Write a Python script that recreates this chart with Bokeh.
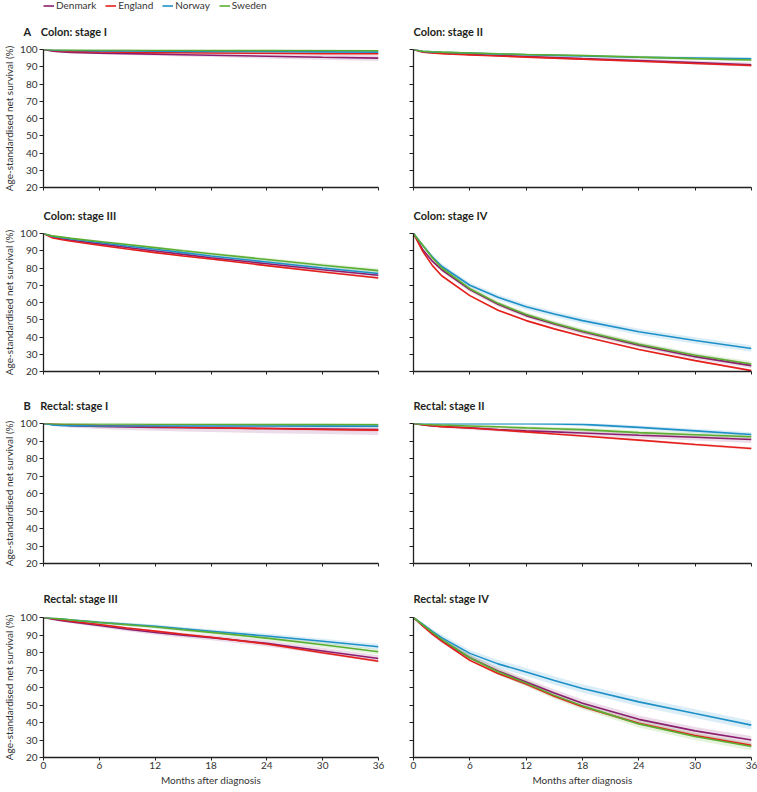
from bokeh.plotting import figure
from bokeh.layouts import column, row
from bokeh.models import Range1d, FixedTicker, Legend, LegendItem, Title
from bokeh.embed import file_html
from bokeh.resources import INLINE

# ---------------- data ----------------
MONTHS = [0, 1, 2, 3, 6, 9, 12, 15, 18, 24, 30, 36]
COUNTRIES = ["Denmark", "England", "Norway", "Sweden"]
COLORS = ["#8B1E6E", "#E4201C", "#1E90C8", "#5BAE31"]
X_TICKS = [0, 6, 12, 18, 24, 30, 36]
Y_TICKS = [20, 30, 40, 50, 60, 70, 80, 90, 100]
PANEL_TITLES = ["Colon: stage I", "Colon: stage II", "Colon: stage III", "Colon: stage IV",
                "Rectal: stage I", "Rectal: stage II", "Rectal: stage III", "Rectal: stage IV"]
SECTION_LETTERS = ["A", None, None, None, "B", None, None, None]

colon_stage_I = {
    "Denmark": [100, 99.0, 98.6, 98.3, 97.9, 97.6, 97.3, 97.0, 96.7, 96.1, 95.5, 95.0],
    "England": [100, 99.4, 99.1, 98.9, 98.6, 98.4, 98.2, 98.1, 98.0, 97.8, 97.6, 97.5],
    "Norway":  [100, 99.7, 99.5, 99.4, 99.2, 99.1, 99.0, 98.9, 98.9, 98.8, 98.6, 98.5],
    "Sweden":  [100, 99.9, 99.8, 99.8, 99.7, 99.7, 99.6, 99.6, 99.5, 99.5, 99.4, 99.3],
}
colon_stage_II = {
    "Denmark": [100, 98.6, 98.2, 97.9, 97.2, 96.5, 95.9, 95.3, 94.7, 93.6, 92.4, 91.2],
    "England": [100, 98.4, 98.0, 97.6, 96.9, 96.2, 95.6, 95.0, 94.4, 93.2, 91.9, 90.7],
    "Norway":  [100, 98.9, 98.6, 98.4, 97.9, 97.4, 97.0, 96.6, 96.2, 95.5, 95.0, 94.6],
    "Sweden":  [100, 99.0, 98.7, 98.5, 98.0, 97.5, 97.1, 96.8, 96.5, 95.6, 94.7, 93.9],
}
colon_stage_III = {
    "Denmark": [100, 97.8, 96.9, 96.1, 94.0, 91.9, 89.9, 87.9, 85.9, 82.5, 79.0, 75.8],
    "England": [100, 97.4, 96.4, 95.5, 93.2, 91.0, 88.9, 87.0, 85.2, 81.4, 77.7, 74.2],
    "Norway":  [100, 98.3, 97.5, 96.8, 94.8, 92.8, 90.9, 88.9, 87.0, 83.5, 80.0, 76.8],
    "Sweden":  [100, 98.6, 97.9, 97.2, 95.4, 93.6, 91.8, 90.0, 88.3, 84.9, 81.6, 78.5],
}
colon_stage_IV = {
    "Denmark": [100, 90.5, 84.0, 79.0, 67.5, 59.0, 52.4, 47.5, 43.0, 35.3, 28.6, 23.4],
    "England": [100, 89.5, 81.5, 75.5, 64.0, 55.5, 49.5, 44.7, 40.4, 32.8, 26.3, 20.5],
    "Norway":  [100, 93.0, 86.5, 81.0, 70.0, 63.0, 57.5, 53.3, 49.5, 43.0, 38.0, 33.3],
    "Sweden":  [100, 93.0, 86.0, 80.0, 68.0, 59.5, 53.0, 48.0, 43.5, 35.8, 29.4, 24.3],
}
rectal_stage_I = {
    "Denmark": [100, 99.5, 99.1, 98.8, 98.3, 98.0, 97.8, 97.6, 97.4, 97.1, 96.8, 96.5],
    "England": [100, 99.7, 99.4, 99.2, 98.8, 98.5, 98.2, 97.9, 97.6, 97.1, 96.6, 96.2],
    "Norway":  [100, 99.2, 98.9, 98.8, 98.6, 98.6, 98.6, 98.6, 98.6, 98.6, 98.5, 98.5],
    "Sweden":  [100, 99.9, 99.8, 99.8, 99.7, 99.7, 99.6, 99.6, 99.6, 99.5, 99.5, 99.4],
}
rectal_stage_II = {
    "Denmark": [100, 99.2, 98.6, 98.3, 97.5, 96.6, 95.8, 95.2, 94.6, 93.3, 92.1, 90.9],
    "England": [100, 99.3, 98.7, 98.2, 97.4, 96.3, 95.2, 94.0, 92.9, 90.5, 88.0, 85.7],
    "Norway":  [100, 99.9, 99.9, 99.9, 99.9, 99.9, 99.9, 99.8, 99.5, 97.8, 95.8, 93.7],
    "Sweden":  [100, 99.6, 99.3, 99.1, 98.6, 98.1, 97.5, 97.0, 96.5, 94.8, 93.6, 92.4],
}
rectal_stage_III = {
    "Denmark": [100, 99.0, 98.2, 97.5, 95.4, 93.3, 91.4, 89.9, 88.5, 85.2, 80.9, 76.6],
    "England": [100, 99.3, 98.6, 97.9, 96.0, 94.0, 92.2, 90.4, 88.7, 84.9, 79.9, 75.0],
    "Norway":  [100, 99.6, 99.1, 98.6, 97.2, 96.1, 95.0, 93.5, 92.1, 89.4, 86.4, 83.3],
    "Sweden":  [100, 99.6, 99.1, 98.6, 97.1, 95.9, 94.6, 93.0, 91.5, 88.2, 84.4, 80.4],
}
rectal_stage_IV = {
    "Denmark": [100, 95.5, 91.0, 87.0, 77.0, 69.5, 63.2, 56.8, 51.0, 41.8, 35.2, 30.0],
    "England": [100, 95.0, 90.5, 86.5, 75.5, 68.0, 62.0, 55.0, 49.0, 39.5, 32.5, 27.0],
    "Norway":  [100, 96.0, 92.0, 88.5, 79.5, 73.5, 68.9, 64.0, 59.4, 51.8, 45.1, 38.5],
    "Sweden":  [100, 95.8, 91.5, 87.5, 77.0, 69.0, 62.5, 55.5, 49.5, 39.2, 32.0, 26.3],
}

# 95% CI half-widths (percentage points)
colon_stage_I_ci = {
    "Denmark": [0, .3, .4, .5, .7, .8, .9, 1.0, 1.1, 1.3, 1.5, 1.7],
    "England": [0, .1, .1, .1, .2, .2, .3, .3, .3, .4, .4, .5],
    "Norway":  [0, .2, .3, .3, .4, .5, .5, .6, .6, .7, .8, .9],
    "Sweden":  [0, .1, .2, .2, .3, .3, .3, .3, .4, .4, .5, .5],
}
colon_stage_II_ci = {
    "Denmark": [0, .3, .4, .4, .5, .6, .7, .8, .8, 1.0, 1.1, 1.2],
    "England": [0, .1, .1, .2, .2, .3, .3, .3, .4, .4, .5, .5],
    "Norway":  [0, .3, .4, .4, .5, .6, .7, .7, .8, .9, 1.0, 1.1],
    "Sweden":  [0, .2, .3, .3, .4, .5, .5, .6, .6, .7, .8, .9],
}
colon_stage_III_ci = {
    "Denmark": [0, .4, .5, .6, .7, .8, .9, 1.0, 1.1, 1.2, 1.3, 1.4],
    "England": [0, .1, .2, .2, .3, .3, .4, .4, .4, .5, .5, .6],
    "Norway":  [0, .4, .5, .6, .7, .8, .9, 1.0, 1.0, 1.1, 1.2, 1.3],
    "Sweden":  [0, .3, .4, .5, .6, .7, .7, .8, .9, 1.0, 1.1, 1.2],
}
colon_stage_IV_ci = {
    "Denmark": [0, .8, 1.0, 1.1, 1.2, 1.3, 1.3, 1.4, 1.4, 1.4, 1.5, 1.5],
    "England": [0, .3, .4, .4, .5, .5, .5, .5, .5, .5, .5, .5],
    "Norway":  [0, 1.0, 1.2, 1.4, 1.5, 1.6, 1.7, 1.7, 1.8, 1.8, 1.9, 1.9],
    "Sweden":  [0, .8, 1.0, 1.1, 1.2, 1.3, 1.3, 1.4, 1.4, 1.5, 1.5, 1.6],
}
rectal_stage_I_ci = {
    "Denmark": [0, .6, .9, 1.1, 1.4, 1.7, 1.9, 2.1, 2.3, 2.6, 2.8, 3.0],
    "England": [0, .2, .3, .3, .4, .5, .5, .6, .6, .7, .8, .8],
    "Norway":  [0, .8, 1.0, 1.0, .9, .8, .8, .8, .8, .8, .8, .8],
    "Sweden":  [0, .2, .3, .3, .4, .4, .5, .5, .5, .6, .6, .6],
}
rectal_stage_II_ci = {
    "Denmark": [0, .5, .7, .8, 1.0, 1.2, 1.3, 1.4, 1.5, 1.7, 1.8, 2.0],
    "England": [0, .2, .3, .3, .4, .5, .5, .6, .6, .7, .7, .8],
    "Norway":  [0, .3, .4, .5, .6, .7, .8, .9, 1.0, 1.1, 1.2, 1.3],
    "Sweden":  [0, .4, .5, .6, .7, .8, .9, 1.0, 1.1, 1.2, 1.3, 1.4],
}
rectal_stage_III_ci = {
    "Denmark": [0, .5, .7, .8, 1.0, 1.2, 1.3, 1.4, 1.5, 1.7, 1.8, 1.9],
    "England": [0, .2, .3, .3, .4, .5, .5, .5, .6, .6, .7, .7],
    "Norway":  [0, .4, .5, .6, .8, .9, 1.0, 1.1, 1.2, 1.4, 1.5, 1.6],
    "Sweden":  [0, .4, .5, .6, .8, .9, 1.0, 1.1, 1.2, 1.3, 1.4, 1.5],
}
rectal_stage_IV_ci = {
    "Denmark": [0, 1.0, 1.3, 1.5, 1.7, 1.9, 2.0, 2.1, 2.1, 2.2, 2.2, 2.3],
    "England": [0, .4, .5, .6, .7, .7, .8, .8, .8, .8, .9, .9],
    "Norway":  [0, 1.2, 1.5, 1.8, 2.0, 2.2, 2.3, 2.4, 2.4, 2.5, 2.5, 2.5],
    "Sweden":  [0, 1.0, 1.3, 1.5, 1.7, 1.8, 1.9, 2.0, 2.0, 2.1, 2.1, 2.2],
}

PANEL_DATA = [colon_stage_I, colon_stage_II, colon_stage_III, colon_stage_IV,
              rectal_stage_I, rectal_stage_II, rectal_stage_III, rectal_stage_IV]
PANEL_CI = [colon_stage_I_ci, colon_stage_II_ci, colon_stage_III_ci, colon_stage_IV_ci,
            rectal_stage_I_ci, rectal_stage_II_ci, rectal_stage_III_ci, rectal_stage_IV_ci]

# ---------------- layout ----------------
FONT = "Lato"
HEADER_H = 11
TOP_BORDERS = [36, 36, 44, 46]
BOTTOM_BORDERS = [8, 8, 8, 34]
TITLE_STANDOFF = [23, 23, 24, 26]
FRAME_H = 140
LEFT_W = (43, 335, 17)
RIGHT_W = (18, 338, 6)
TOTAL_W = 757


def make_panel(i):
    r, c = divmod(i, 2)
    lb, fw, rb = LEFT_W if c == 0 else RIGHT_W
    tb, bb = TOP_BORDERS[r], BOTTOM_BORDERS[r]
    p = figure(width=lb + fw + rb, height=tb + FRAME_H + bb,
               x_range=Range1d(0, 36), y_range=Range1d(20, 100),
               output_backend="svg", toolbar_location=None, title=None,
               min_border_left=lb, min_border_right=rb,
               min_border_top=tb, min_border_bottom=bb)
    p.outline_line_color = None
    p.xgrid.visible = False
    p.ygrid.visible = False
    p.background_fill_color = None
    p.border_fill_color = None

    data = PANEL_DATA[i]
    ci = PANEL_CI[i]
    for name, col in zip(COUNTRIES, COLORS):
        lo = [v - h for v, h in zip(data[name], ci[name])]
        hi = [v + h for v, h in zip(data[name], ci[name])]
        p.varea(x=MONTHS, y1=lo, y2=hi, fill_color=col, fill_alpha=0.16)
    for name, col in zip(COUNTRIES, COLORS):
        p.line(MONTHS, data[name], line_color=col, line_width=1.6)

    for ax in (p.xaxis[0], p.yaxis[0]):
        ax.axis_line_color = "#231f20"
        ax.axis_line_width = 1.3
        ax.major_tick_line_color = "#231f20"
        ax.major_tick_line_width = 1
        ax.major_tick_in = 0
        ax.major_tick_out = 4
        ax.minor_tick_line_color = None
        ax.major_label_text_font = FONT
        ax.major_label_text_font_size = "10px"
        ax.major_label_text_color = "#333333"
        ax.axis_label_text_font = FONT
        ax.axis_label_text_font_size = "10px"
        ax.axis_label_text_font_style = "normal"
        ax.axis_label_text_color = "#333333"
    p.xaxis.ticker = FixedTicker(ticks=X_TICKS)
    p.yaxis.ticker = FixedTicker(ticks=Y_TICKS)
    p.yaxis.major_label_standoff = 2
    p.xaxis.major_label_standoff = 1
    p.xaxis.major_tick_out = 3

    if c == 0:
        p.yaxis.axis_label = "Age-standardised net survival (%)"
        p.yaxis.axis_label_standoff = 2
    else:
        p.yaxis.major_label_overrides = {t: "" for t in Y_TICKS}
    if r == 3:
        p.xaxis.axis_label = "Months after diagnosis"
        p.xaxis.axis_label_standoff = 2
    else:
        p.xaxis.major_label_overrides = {t: "" for t in X_TICKS}

    letter = SECTION_LETTERS[i]
    if letter:
        text = letter + "\u2003\u2009" + PANEL_TITLES[i]
        offset = -20
    else:
        text = PANEL_TITLES[i]
        offset = 0
    p.add_layout(Title(text=text, align="left", offset=offset, standoff=TITLE_STANDOFF[r],
                       text_font=FONT, text_font_size="11px", text_font_style="bold",
                       text_color="#231f20"), "above")
    return p


panels = [make_panel(i) for i in range(8)]

# header strip that carries the country key (its series lie outside the strip's view)
header = figure(width=TOTAL_W, height=HEADER_H, x_range=Range1d(-2, -1), y_range=Range1d(0, 1),
                x_axis_type=None, y_axis_type=None, output_backend="svg",
                toolbar_location=None, title=None, min_border=0,
                min_border_left=0, min_border_right=0, min_border_top=0, min_border_bottom=0)
header.outline_line_color = None
header.xgrid.visible = False
header.ygrid.visible = False
header.border_fill_color = None
header.background_fill_color = None
key_renderers = [header.line(MONTHS, colon_stage_I[n], line_color=col, line_width=1.6)
                 for n, col in zip(COUNTRIES, COLORS)]
legend = Legend(items=[LegendItem(label=n, renderers=[rl]) for n, rl in zip(COUNTRIES, key_renderers)],
                location=(LEFT_W[0], 0), orientation="horizontal",
                border_line_color=None, background_fill_alpha=0,
                padding=0, margin=0, spacing=9, label_standoff=2,
                glyph_width=11, glyph_height=11, label_height=11,
                label_text_font=FONT, label_text_font_size="10px",
                label_text_color="#333333")
header.add_layout(legend)

layout = column(header, *[row(panels[2 * k], panels[2 * k + 1]) for k in range(4)])

open("out.html", "w").write(file_html(layout, INLINE))
